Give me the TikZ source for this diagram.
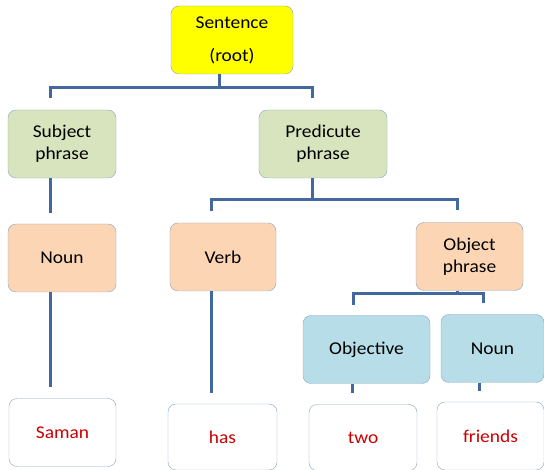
\documentclass[tikz,border=0pt]{standalone}
\usepackage{fontspec}
\setmainfont{Carlito}[FakeStretch=1.08]
\definecolor{rootfill}{RGB}{255,255,0}
\definecolor{phrasefill}{RGB}{215,228,189}
\definecolor{wordfill}{RGB}{252,213,181}
\definecolor{objfill}{RGB}{183,222,232}
\definecolor{edge}{RGB}{140,165,195}
\definecolor{branchblue}{RGB}{66,104,158}
\definecolor{leaftext}{RGB}{204,0,0}
\usetikzlibrary{positioning}
\tikzset{
  box/.style={draw=edge,rounded corners=8pt,align=center,minimum height=68pt,
              inner sep=3pt,font=\fontsize{18}{22}\selectfont},
  rootbox/.style={box,fill=rootfill},
  phrase/.style={box,fill=phrasefill},
  word/.style={box,fill=wordfill},
  objbox/.style={box,fill=objfill},
  leaf/.style={box,fill=white,text=leaftext},
  branch/.style={draw=branchblue,line width=3pt},
}

\begin{document}
\begin{tikzpicture}[x=1pt,y=-1pt]
    \useasboundingbox (0,0) rectangle (544,470);
    \node[rootbox,minimum width=122pt] (root) at (232,40) {Sentence\\[11pt](root)};
    \node[phrase,minimum width=108pt] (subj) at (62,144) {Subject\\phrase};
    \node[phrase,minimum width=128pt] (pred) at (323,144) {Predicute\\phrase};
    \node[word,minimum width=108pt] (noun) at (62,258) {Noun};
    \node[word,minimum width=106pt] (verb) at (223,257) {Verb};
    \node[word,minimum width=107pt] (objp) at (469.5,256.5) {Object\\phrase};
    \node[objbox,minimum width=127pt] (objv) at (366.5,349.5) {Objective};
    \node[objbox,minimum width=103pt] (noun2) at (492.5,348.5) {Noun};
    \node[leaf,minimum width=107pt] (saman) at (62.5,432.5) {Saman};
    \node[leaf,minimum width=109pt,minimum height=66pt] (has) at (222.5,437) {has};
    \node[leaf,minimum width=108pt,minimum height=66pt] (two) at (363,437.5) {two};
    \node[leaf,minimum width=107pt] (friends) at (490.5,436) {friends};
    % branch points
    \coordinate (rj) at (219,88);
    \coordinate (rl) at (50,98);
    \coordinate (rr) at (312,98);
    \coordinate (pj) at (312,200);
    \coordinate (pl) at (211,211);
    \coordinate (pr) at (457,210);
    \coordinate (oj) at (457,294);
    \coordinate (ol) at (353,305);
    \coordinate (or) at (483,303);
    \coordinate (sl) at (50,213);
    \coordinate (nl) at (50,387);
    \coordinate (vl) at (211,393);
    \coordinate (ovl) at (352,393);
    \coordinate (nnl) at (479,391);
    % connectors
    \draw[branch] (root.south -| rj) -- (rj);
    \draw[branch] (rl) |- (rj) -| (rr);
    \draw[branch] (subj.south -| sl) -- (sl);
    \draw[branch] (pred.south -| pj) -- (pj);
    \draw[branch] (pl) |- (pj) -| (pr);
    \draw[branch] (noun.south -| nl) -- (nl);
    \draw[branch] (verb.south -| vl) -- (vl);
    \draw[branch] (objp.south -| oj) -- (oj);
    \draw[branch] (ol) |- (oj) -| (or);
    \draw[branch] (objv.south -| ovl) -- (ovl);
    \draw[branch] (noun2.south -| nnl) -- (nnl);
\end{tikzpicture}
\end{document}
